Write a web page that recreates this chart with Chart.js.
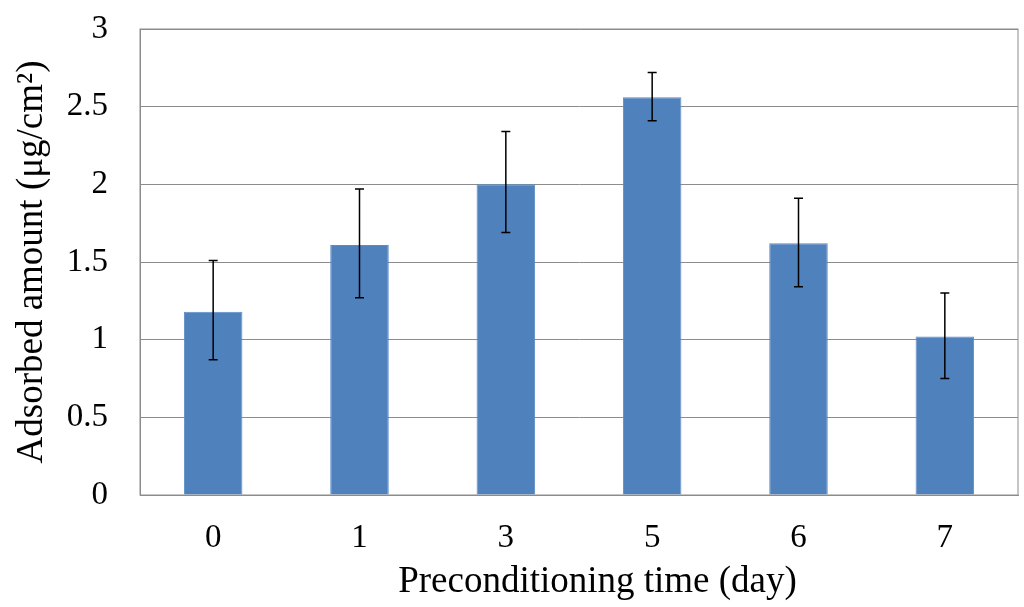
<!DOCTYPE html>
<html>
<head>
<meta charset="utf-8">
<script src="https://cdn.jsdelivr.net/npm/chart.js@4"></script>
<style>
    html, body { margin: 0; padding: 0; background: #fff; }
    #wrap { width: 1024px; height: 607px; }
</style>
</head>
<body>
<div id="wrap"><canvas id="adsChart"></canvas></div>
<script>
// datos
const days = ['0', '1', '3', '5', '6', '7'];
const adsorbed = [1.18, 1.61, 2.00, 2.56, 1.62, 1.02];
const errUpper = [1.51, 1.97, 2.34, 2.72, 1.91, 1.30];
const errLower = [0.87, 1.27, 1.69, 2.41, 1.34, 0.75];
const yTicks = [0, 0.5, 1, 1.5, 2, 2.5, 3];

const serif = 'Liberation Serif, Times New Roman, serif';

// barras de error con las escalas del gráfico
const errorBars = {
    id: 'errorBars',
    afterDatasetsDraw(chart) {
        const ctx = chart.ctx;
        const yScale = chart.scales.y;
        const meta = chart.getDatasetMeta(0);
        ctx.save();
        ctx.strokeStyle = '#000';
        ctx.lineWidth = 1.5;
        meta.data.forEach((bar, i) => {
            const x = bar.x;
            const yTop = yScale.getPixelForValue(errUpper[i]);
            const yBot = yScale.getPixelForValue(errLower[i]);
            ctx.beginPath();
            ctx.moveTo(x, yTop); ctx.lineTo(x, yBot);
            ctx.moveTo(x - 4.5, yTop); ctx.lineTo(x + 4.5, yTop);
            ctx.moveTo(x - 4.5, yBot); ctx.lineTo(x + 4.5, yBot);
            ctx.stroke();
        });
        ctx.restore();
    }
};

// marco completo del área
const plotFrame = {
    id: 'plotFrame',
    beforeDatasetsDraw(chart) {
        const a = chart.chartArea;
        const ctx = chart.ctx;
        ctx.save();
        ctx.strokeStyle = '#8c8c8c';
        ctx.lineWidth = 1;
        ctx.strokeRect(a.left, a.top, a.right - a.left, a.bottom - a.top);
        ctx.restore();
    }
};

new Chart(document.getElementById('adsChart'), {
    type: 'bar',
    data: {
        labels: days,
        datasets: [{
            label: 'Adsorbed amount',
            data: adsorbed,
            backgroundColor: '#4F81BD',
            borderColor: '#5b8cc6',
            borderWidth: 1,
            categoryPercentage: 1,
            barPercentage: 0.4
        }]
    },
    options: {
        responsive: true,
        maintainAspectRatio: false,
        animation: false,
        layout: { padding: { top: 29, right: 6, left: 0, bottom: 0 } },
        plugins: {
            legend: { display: false },
            tooltip: { enabled: false }
        },
        scales: {
            x: {
                grid: { display: false, drawTicks: false },
                border: { color: '#8c8c8c' },
                ticks: { color: '#000', font: { family: serif, size: 33 }, padding: 24 },
                title: {
                    display: true,
                    text: '\u2003Preconditioning time (day)',
                    color: '#000',
                    font: { family: serif, size: 37 },
                    padding: { top: 0, bottom: 3 }
                },
                afterFit: (scale) => { scale.height = 112; }
            },
            y: {
                min: 0,
                max: 3,
                afterBuildTicks: (scale) => { scale.ticks = yTicks.map(v => ({ value: v })); },
                grid: { color: '#8c8c8c', drawTicks: false },
                border: { color: '#8c8c8c' },
                ticks: {
                    color: '#000',
                    font: { family: serif, size: 33 },
                    padding: 32,
                    callback: (value) => String(value)
                },
                title: {
                    display: true,
                    text: 'Adsorbed amount (μg/cm²)',
                    color: '#000',
                    font: { family: serif, size: 37 },
                    padding: { top: 10, bottom: 0 }
                },
                afterFit: (scale) => {
                    scale.width = 140;
                    scale.paddingTop = 0;
                    scale.paddingBottom = 0;
                }
            }
        }
    },
    plugins: [plotFrame, errorBars]
});
</script>
</body>
</html>
